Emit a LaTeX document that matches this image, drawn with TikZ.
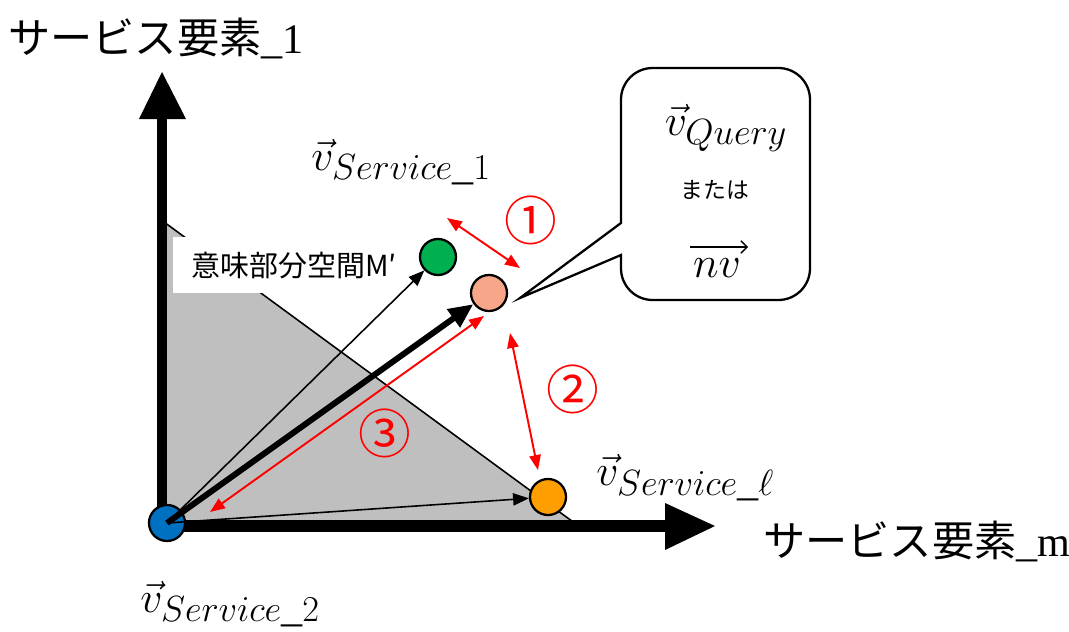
\documentclass[tikz,border=0pt]{standalone}
\usepackage{fontspec}
\setmainfont{Liberation Serif}
\newfontfamily\jp{Noto Sans CJK JP}
\usetikzlibrary{arrows.meta}
\DeclareMathSizes{24}{24}{22}{16}
\definecolor{gblue}{HTML}{0070C0}
\definecolor{ggreen}{HTML}{00B050}
\definecolor{gorange}{HTML}{FF9E00}
\definecolor{gsalmon}{HTML}{F8A68A}
\definecolor{ggray}{HTML}{BFBFBF}
\begin{document}
\begin{tikzpicture}[x=0.02cm,y=-0.02cm,
  dot/.style={circle,draw=black,line width=1.3pt,minimum size=20.5pt,inner sep=0pt},
  vec/.style={-{Triangle[length=9pt,width=7pt]},line width=0.9pt},
  thickvec/.style={-{Triangle[length=14pt,width=12pt]},line width=3.4pt},
  dist/.style={{Triangle[length=8.5pt,width=6.5pt]}-{Triangle[length=8.5pt,width=6.5pt]},red,line width=1.1pt},
  num/.style={text=red,font=\jp\fontsize{30}{30}\selectfont,inner sep=0pt},
  mlab/.style={font=\fontsize{24}{28}\selectfont,inner sep=0pt},
  axlab/.style={font=\fontsize{24}{28}\selectfont,inner sep=0pt},
  overarrow/.style={-{Straight Barb[length=3.5pt,width=7pt]},line width=0.8pt}]
\useasboundingbox (0,0) rectangle (1069,632);
% gray subspace
\fill[ggray] (164,222) -- (580,527) -- (164,527) -- cycle;
\draw[line width=0.9pt] (164,222) -- (580,527);
% label box
\fill[white] (173,237) rectangle (400,293);
\node[anchor=west,font=\jp\fontsize{16.5}{18}\selectfont,inner sep=0pt] (Mlab) at (191,266) {意味部分空間M′};
% axes
\coordinate (O) at (162,526);
\coordinate (Ytip) at (162,72);
\coordinate (Xtip) at (715,526);
\draw[line width=6pt] (162,532) -- (162,112);
\draw[line width=6.6pt] (157,526) -- (670,526);
\fill (139,119) -- (186,119) -- (Ytip) -- cycle;
\fill (665,503) -- (665,550) -- (Xtip) -- cycle;
% points
\node[dot,fill=gblue] (B) at (167,523) {};
\node[dot,fill=ggreen] (G) at (438,257) {};
\node[dot,fill=gsalmon] (S) at (489,293) {};
\node[dot,fill=gorange] (R) at (548,497) {};
% vectors
\draw[vec] (B.center) -- (G);
\draw[thickvec] (B.center) -- (S);
\draw[vec] (B.center) -- (R);
% distances
\coordinate (d1a) at (447,218); \coordinate (d1b) at (520,268);
\coordinate (d2a) at (510,333); \coordinate (d2b) at (538,470);
\coordinate (d3a) at (210,512); \coordinate (d3b) at (484,316);
\draw[dist] (d1a) -- (d1b);
\draw[dist] (d2a) -- (d2b);
\draw[dist] (d3a) -- (d3b);
\node[num] (n1) at (531,220) {①};
\node[num] (n2) at (573,389) {②};
\node[num] (n3) at (385,433) {③};
% callout
\draw[line width=1.3pt,fill=white] (621,223) [rounded corners=18pt] -- (621,68) -- (810,68) -- (810,300) -- (621,300) [sharp corners] -- (621,255) -- (520,298) -- cycle;
\node[mlab] (q) at (726,128) {$\vec{v}_{Query}$};
\node[font=\jp\fontsize{13}{14}\selectfont,inner sep=0pt] (mata) at (715,190) {または};
\node[mlab] (nv) at (717,268) {$nv$};
\coordinate (nvL) at (690,247);
\coordinate (nvR) at (748,247);
\draw[overarrow] (nvL) -- (nvR);
% vector labels
\node[mlab,anchor=base west] (l1) at (311,170) {$\vec{v}_{Service\_1}$};
\node[mlab,anchor=base west] (ll) at (596,485) {$\vec{v}_{Service\_\ell}$};
\node[mlab,anchor=base west] (l2) at (140,612) {$\vec{v}_{Service\_2}$};
% axis labels
\node[axlab,anchor=west] (ay) at (8,38) {{\jp サービス要素}\_1};
\node[axlab,anchor=west] (ax) at (763,541) {{\jp サービス要素}\_m};
\end{tikzpicture}
\end{document}
